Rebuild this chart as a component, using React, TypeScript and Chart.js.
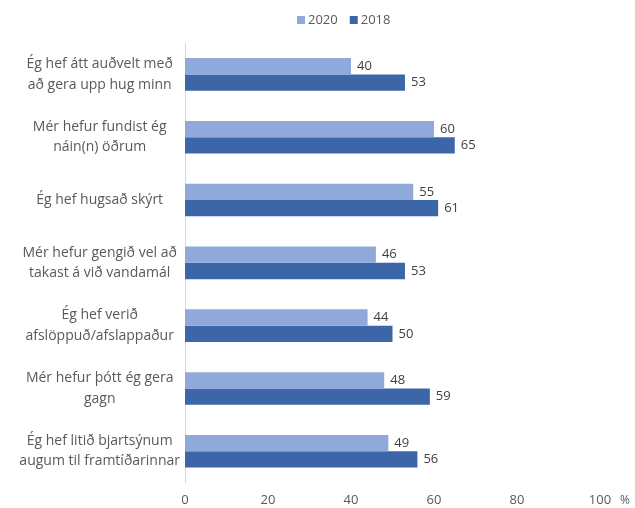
import React, { useEffect, useRef } from "react";
import { Chart, registerables } from "chart.js";

Chart.register(...registerables);

const categories: (string | string[])[] = [
  ["Ég hef átt auðvelt með", "að gera upp hug minn"],
  ["Mér hefur fundist ég", "náin(n) öðrum"],
  "Ég hef hugsað skýrt",
  ["Mér hefur gengið vel að", "takast á við vandamál"],
  ["Ég hef verið", "afslöppuð/afslappaður"],
  ["Mér hefur þótt ég gera", "gagn"],
  ["Ég hef litið bjartsýnum", "augum til framtíðarinnar"],
];
const series2020 = [40, 60, 55, 46, 44, 48, 49];
const series2018 = [53, 65, 61, 53, 50, 59, 56];
const seriesNames = ["2020", "2018"];
const seriesColors = ["#8EA9DA", "#3D66A8"];
const xTicks = [0, 20, 40, 60, 80, 100];

const FONT = "'Open Sans', sans-serif";

export default function App() {
  const ref = useRef<HTMLCanvasElement | null>(null);
  useEffect(() => {
    if (!ref.current) return;
    const labelPlugin = {
      id: "custom",
      afterDatasetsDraw(chart: any) {
        const ctx = chart.ctx;
        ctx.save();
        ctx.font = "13px " + FONT;
        ctx.fillStyle = "#404040";
        ctx.textAlign = "left";
        ctx.textBaseline = "middle";
        chart.data.datasets.forEach((ds: any, i: number) => {
          const meta = chart.getDatasetMeta(i);
          meta.data.forEach((el: any, j: number) => {
            ctx.fillText(String(ds.data[j]), el.x + 6, el.y);
          });
        });
        // percent sign
        const xs = chart.scales.x;
        ctx.fillStyle = "#595959";
        ctx.font = "12px " + FONT;
        ctx.fillText("%", xs.getPixelForValue(100) + 20, 501);
        // legend
        ctx.font = "13px " + FONT;
        let x = 297;
        const y = 20;
        seriesNames.forEach((n, i) => {
          ctx.fillStyle = seriesColors[i];
          ctx.fillRect(x, y - 4, 8, 8);
          ctx.fillStyle = "#595959";
          ctx.fillText(n, x + 11, y);
          x += 11 + ctx.measureText(n).width + 12;
        });
        ctx.restore();
      },
    };
    const chart = new Chart(ref.current, {
      type: "bar",
      data: {
        labels: categories,
        datasets: [
          { label: seriesNames[0], data: series2020, backgroundColor: seriesColors[0], categoryPercentage: 0.52, barPercentage: 1 },
          { label: seriesNames[1], data: series2018, backgroundColor: seriesColors[1], categoryPercentage: 0.52, barPercentage: 1 },
        ],
      },
      options: {
        indexAxis: "y",
        animation: false,
        responsive: false,
        maintainAspectRatio: false,
        layout: { padding: { top: 43, right: 35, bottom: 0, left: 0 } },
        plugins: { legend: { display: false }, tooltip: { enabled: false } },
        scales: {
          x: {
            min: 0,
            max: 100,
            afterBuildTicks(scale: any) {
              scale.ticks = xTicks.map((v) => ({ value: v }));
            },
            afterFit(scale: any) {
              scale.height = 24;
            },
            grid: { display: false, drawTicks: false },
            border: { display: false },
            ticks: { color: "#595959", font: { family: FONT, size: 13 }, padding: 10 },
          },
          y: {
            afterFit(scale: any) {
              scale.width = 185;
            },
            grid: { display: false, drawTicks: false },
            border: { display: true, color: "#D9D9D9" },
            ticks: { color: "#595959", font: { family: FONT, size: 14, lineHeight: 1.45 }, crossAlign: "center", padding: 5 },
          },
        },
      },
      plugins: [labelPlugin],
    } as any);
    return () => chart.destroy();
  }, []);
  return (
    <div style={{ position: "fixed", left: 0, top: 0, width: 635, height: 508, background: "#fff" }}>
      <canvas ref={ref} width={635} height={508} style={{ width: 635, height: 508 }} />
    </div>
  );
}
